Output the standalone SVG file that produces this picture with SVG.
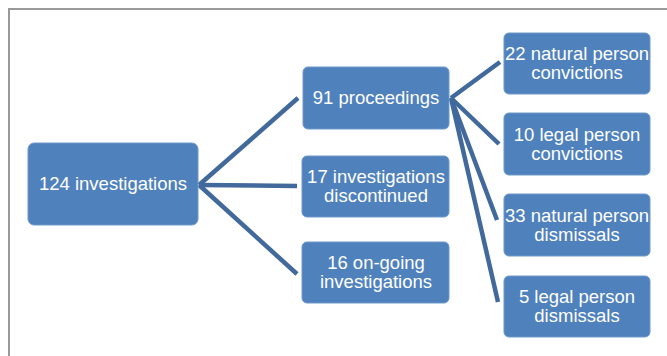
<svg xmlns="http://www.w3.org/2000/svg" width="667" height="356" viewBox="0 0 667 356">
<style>
.box{fill:#4F81BD;stroke:#6F98C9;stroke-width:1}
.t{font-family:"Liberation Sans",Arial,sans-serif;font-size:18.5px;fill:#FFFFFF;text-anchor:middle}
.c{stroke:#41699B;stroke-width:4.5;stroke-linecap:butt;fill:none}
.frame{stroke:#9A9A9A;stroke-width:2;fill:none}
</style>
<rect width="667" height="356" fill="#FFFFFF"/>
<path class="frame" d="M9,356 V9 H667"/>
<g id="connectors">
<line class="c" x1="199" y1="185" x2="298" y2="98"/>
<line class="c" x1="199" y1="185" x2="297" y2="186"/>
<line class="c" x1="199" y1="185" x2="297" y2="274"/>
<line class="c" x1="451" y1="98" x2="500" y2="62"/>
<line class="c" x1="451" y1="98" x2="499" y2="144"/>
<line class="c" x1="451" y1="98" x2="497" y2="220"/>
<line class="c" x1="451" y1="98" x2="498" y2="302"/>
</g>
<g id="n124">
<rect class="box" x="28" y="143" width="170" height="82" rx="6"/>
<text class="t" x="113" y="190">124 investigations</text>
</g>
<g id="n91">
<rect class="box" x="303" y="67" width="146" height="62" rx="5"/>
<text class="t" x="376" y="104">91 proceedings</text>
</g>
<g id="n17">
<rect class="box" x="302" y="156" width="147" height="61" rx="5"/>
<text class="t" x="376" y="183">17 investigations</text>
<text class="t" x="376" y="202">discontinued</text>
</g>
<g id="n16">
<rect class="box" x="302" y="242" width="147" height="61" rx="5"/>
<text class="t" x="376" y="269">16 on-going</text>
<text class="t" x="376" y="288">investigations</text>
</g>
<g id="n22">
<rect class="box" x="504" y="33" width="146" height="61" rx="5"/>
<text class="t" x="577" y="60">22 natural person</text>
<text class="t" x="577" y="79">convictions</text>
</g>
<g id="n10">
<rect class="box" x="504" y="113" width="146" height="62" rx="5"/>
<text class="t" x="577" y="141">10 legal person</text>
<text class="t" x="577" y="160">convictions</text>
</g>
<g id="n33">
<rect class="box" x="504" y="194" width="146" height="62" rx="5"/>
<text class="t" x="577" y="222">33 natural person</text>
<text class="t" x="577" y="241">dismissals</text>
</g>
<g id="n5">
<rect class="box" x="504" y="276" width="146" height="61" rx="5"/>
<text class="t" x="577" y="303">5 legal person</text>
<text class="t" x="577" y="322">dismissals</text>
</g>
</svg>
